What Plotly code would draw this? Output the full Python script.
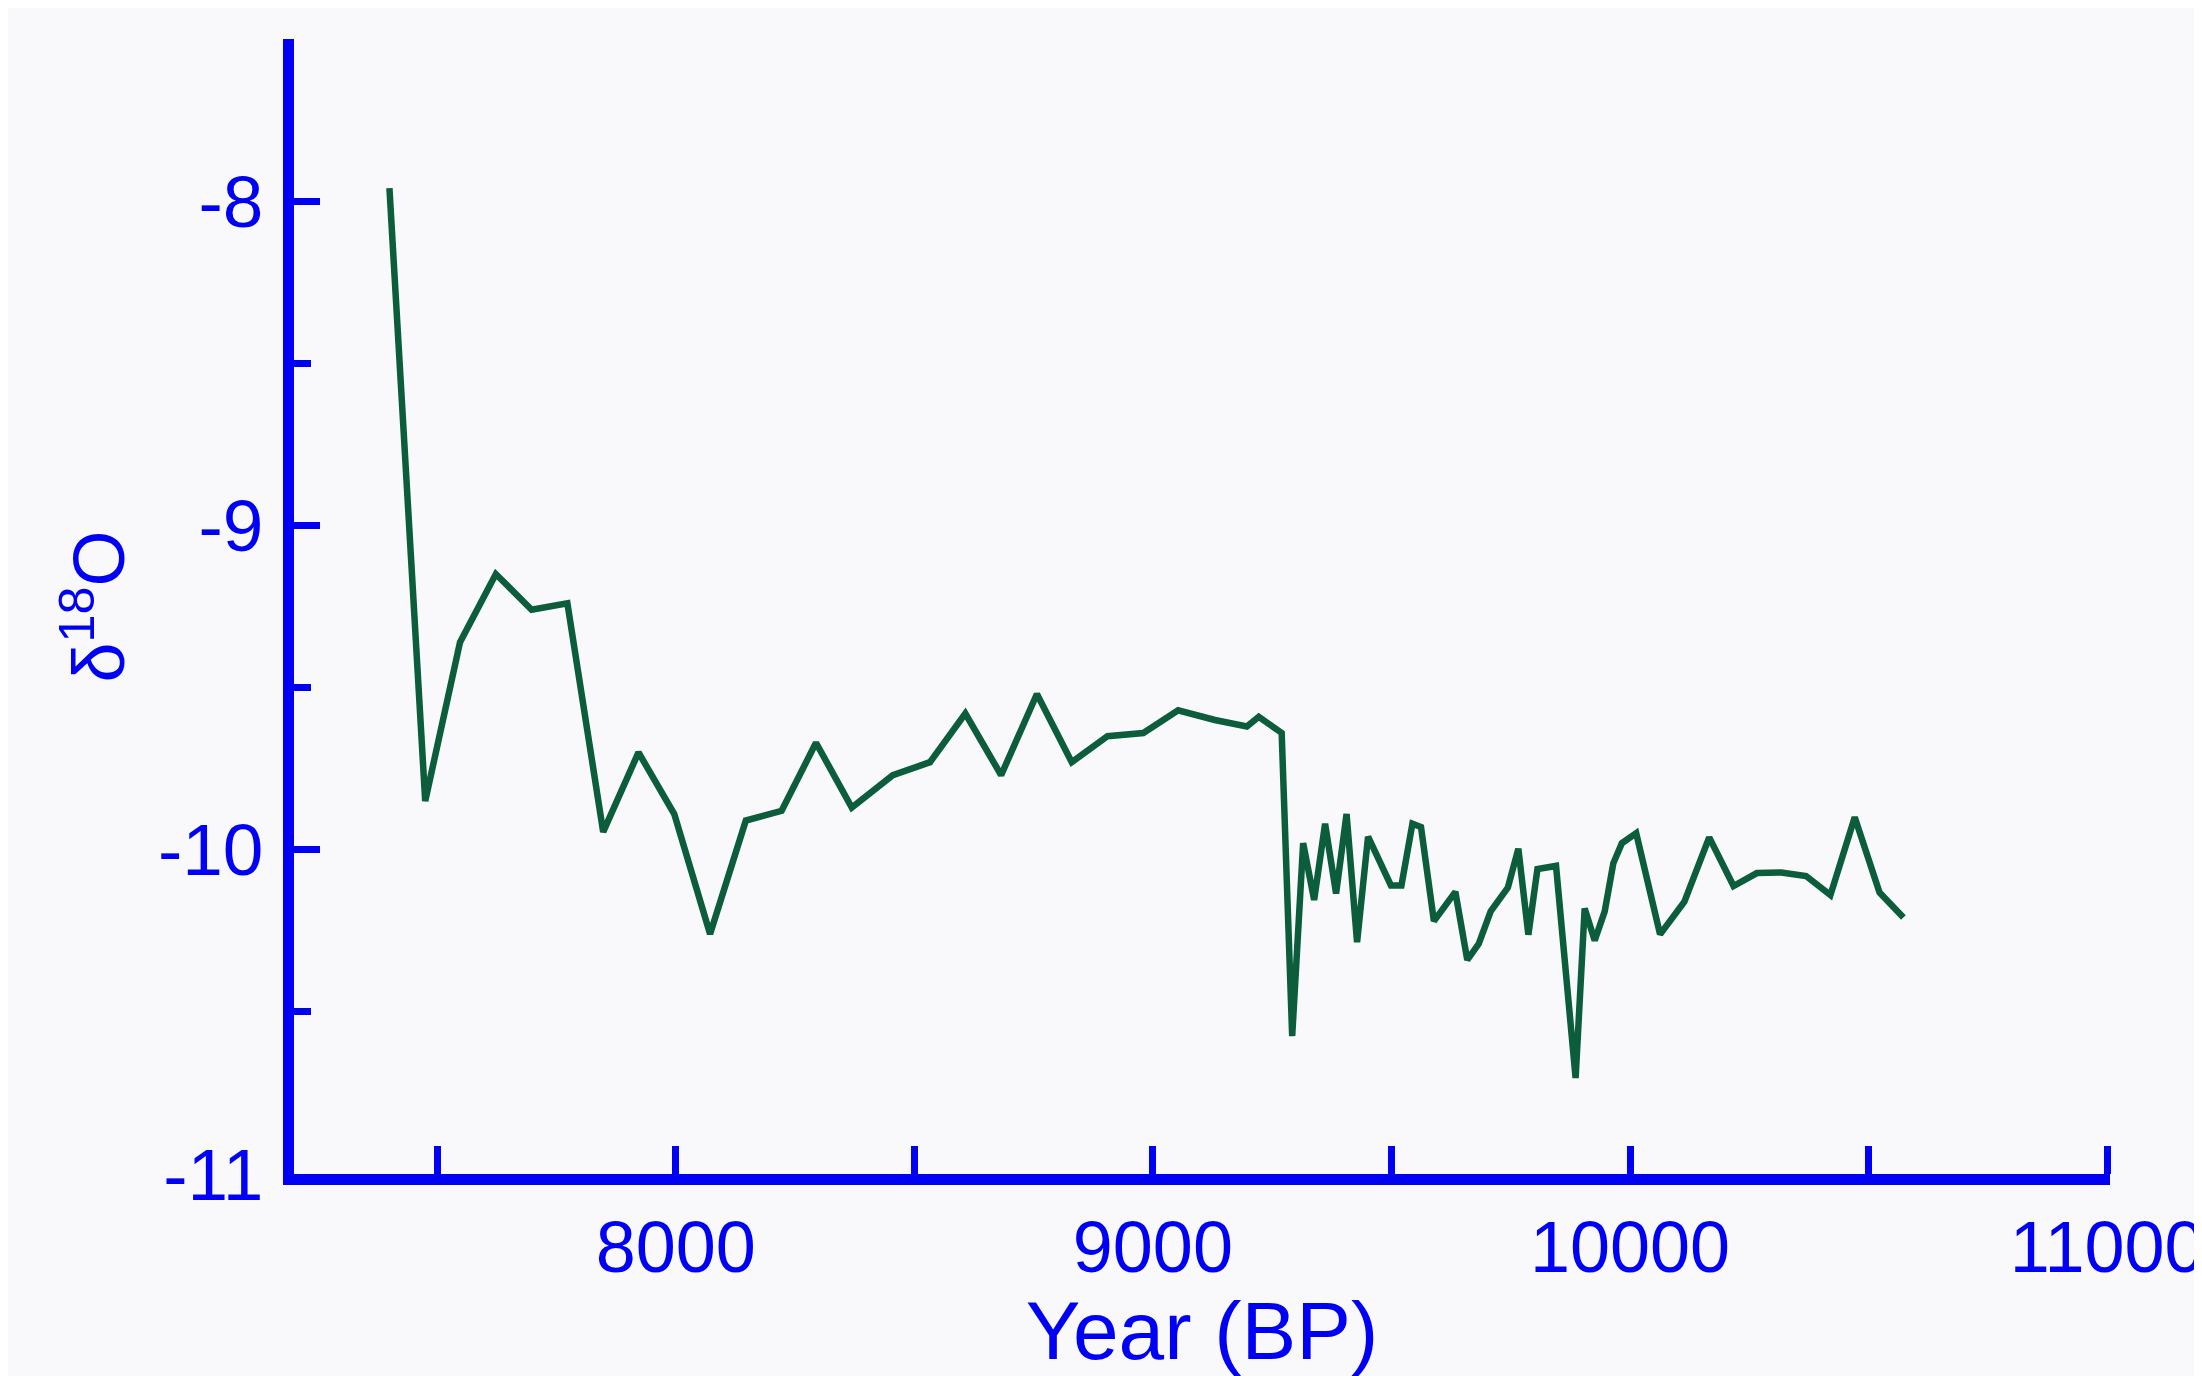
import plotly.graph_objects as go

years = [7400, 7475, 7548, 7623, 7698, 7773, 7848, 7922, 7997, 8072, 8147, 8222, 8294,
         8369, 8455, 8533, 8607, 8682, 8757, 8830, 8905, 8980, 9053, 9130, 9197, 9222,
         9270, 9292, 9315, 9338, 9361, 9384, 9406, 9428, 9451, 9499, 9521, 9544, 9562,
         9589, 9634, 9659, 9683, 9708, 9744, 9766, 9787, 9806, 9845, 9886, 9905, 9926,
         9947, 9965, 9983, 10013, 10063, 10114, 10166, 10217, 10266, 10317, 10369,
         10420, 10471, 10523, 10573]
d18o = [-7.96, -9.85, -9.36, -9.15, -9.26, -9.24, -9.945, -9.70, -9.89, -10.26, -9.91,
        -9.88, -9.67, -9.87, -9.77, -9.73, -9.58, -9.77, -9.52, -9.73, -9.65, -9.64,
        -9.57, -9.60, -9.62, -9.59, -9.64, -10.575, -9.98, -10.155, -9.92, -10.135,
        -9.89, -10.285, -9.96, -10.11, -10.11, -9.92, -9.93, -10.22, -10.13, -10.34,
        -10.29, -10.19, -10.117, -9.997, -10.262, -10.06, -10.05, -10.704, -10.181,
        -10.28, -10.19, -10.042, -9.98, -9.949, -10.261, -10.16, -9.962, -10.112,
        -10.072, -10.070, -10.081, -10.140, -9.900, -10.132, -10.209]

x_tickvals = [8000, 9000, 10000, 11000]
x_ticktext = ["8000", "9000", "10000", "11000"]
y_tickvals = [-8, -9, -10, -11]
y_ticktext = ["-8", "-9", "-10", "-11"]

x_range = [7200, 11006]
y_range = [-11, -7.5]

BLUE = "#0000f5"
GREEN = "#0b5d3b"
BG = "#f9f9fb"
FONT = "Liberation Sans, Arial, sans-serif"

fig = go.Figure()
fig.add_trace(go.Scatter(x=years, y=d18o, mode="lines",
                         line=dict(color=GREEN, width=6.5), showlegend=False))

fig.update_layout(
    width=2194, height=1368,
    margin=dict(l=286, r=92, t=31, b=202, autoexpand=False),
    paper_bgcolor=BG, plot_bgcolor=BG,
    font=dict(family=FONT, color=BLUE),
    xaxis=dict(
        range=x_range, showgrid=False, zeroline=False,
        showline=True, linecolor=BLUE, linewidth=11,
        tickvals=x_tickvals, ticktext=x_ticktext,
        ticks="inside", ticklen=22, tickwidth=7, tickcolor=BLUE,
        minor=dict(dtick=500, tick0=0, ticks="inside", ticklen=28, tickwidth=7,
                   tickcolor=BLUE, showgrid=False),
        tickfont=dict(size=72, color=BLUE, family=FONT),
        ticklabelstandoff=1,
        ticklabeloverflow="allow",
        title=dict(text="Year (BP)", font=dict(size=82, color=BLUE, family=FONT),
                   standoff=18),
        automargin=False,
    ),
    yaxis=dict(
        range=y_range, showgrid=False, zeroline=False,
        showline=True, linecolor=BLUE, linewidth=11,
        tickvals=y_tickvals, ticktext=y_ticktext,
        ticks="inside", ticklen=26, tickwidth=7, tickcolor=BLUE,
        minor=dict(dtick=0.5, tick0=0, ticks="inside", ticklen=17, tickwidth=7,
                   tickcolor=BLUE, showgrid=False),
        tickfont=dict(size=73, color=BLUE, family=FONT),
        ticklabelstandoff=5,
        ticklabeloverflow="allow",
        title=dict(text="δ<sup>18</sup>O", font=dict(size=72, color=BLUE, family=FONT),
                   standoff=14),
        automargin=False,
    ),
)

fig.write_html("out.html")
